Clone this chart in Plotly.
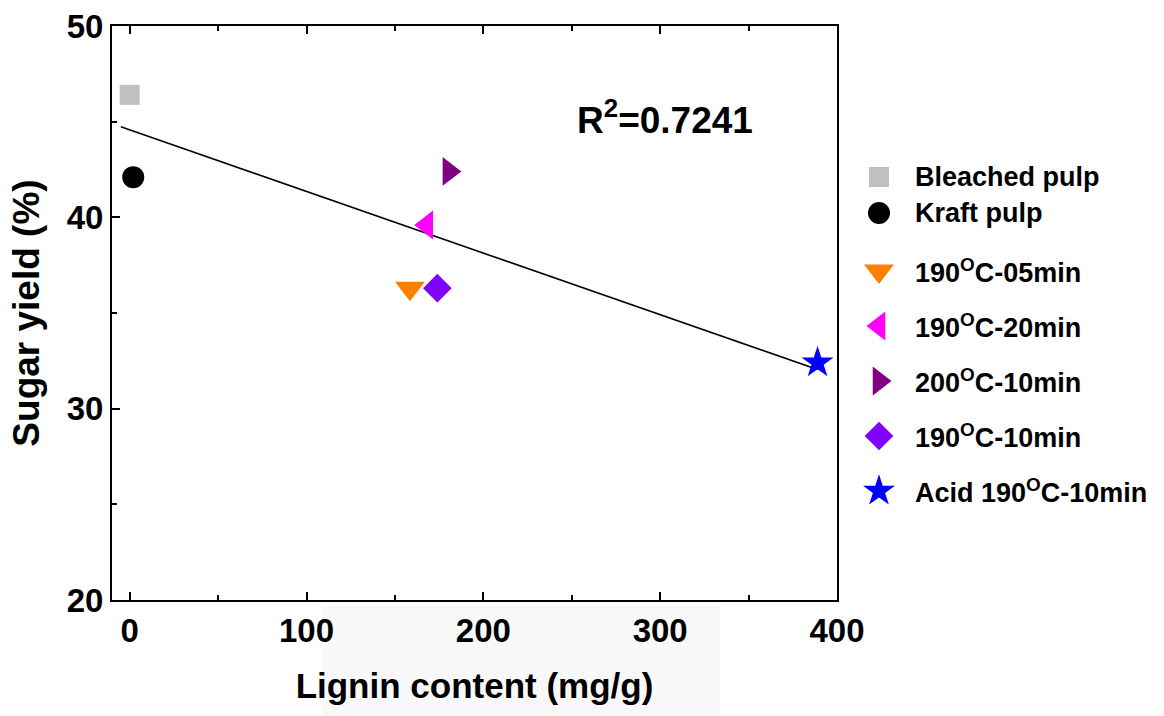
import plotly.graph_objects as go

# ---- data ----
series_names = [
    "Bleached pulp",
    "Kraft pulp",
    "190<sup>O</sup>C-05min",
    "190<sup>O</sup>C-20min",
    "200<sup>O</sup>C-10min",
    "190<sup>O</sup>C-10min",
    "Acid 190<sup>O</sup>C-10min",
]
lignin_content = [0.0, 2.0, 158.5, 168.0, 180.5, 174.0, 389.0]
sugar_yield = [46.4, 42.1, 36.3, 39.6, 42.4, 36.3, 32.4]

marker_symbols = ["square", "circle", "triangle-down", "triangle-left",
                  "triangle-right", "diamond", "star"]
marker_colors = ["#c0c0c0", "#000000", "#ff8000", "#ff00ff",
                 "#800080", "#8000ff", "#0000ff"]
marker_sizes = [20, 22, 26, 25, 25, 22, 24]

# linear fit shown in the figure
fit_slope = -0.0322
fit_intercept = 44.57
fit_x = [-5.0, 389.0]
fit_y = [fit_intercept + fit_slope * v for v in fit_x]
r_squared = "0.7241"

# legend layout (pixel rows in the figure, marker column / text column)
legend_rows_px = [177, 213, 271, 326, 381, 436, 491]
legend_marker_x_px = 879
legend_text_x_px = 913

FONT = "Liberation Sans"
W, H = 1164, 716
PL, PR, PT, PB = 112, 837, 26, 600   # plot box in pixels

fig = go.Figure()

fig.add_trace(go.Scatter(
    x=fit_x, y=fit_y, mode="lines",
    line=dict(color="black", width=1.6),
    showlegend=False, hoverinfo="skip",
))

for name, xv, yv, sym, col, sz in zip(series_names, lignin_content, sugar_yield,
                                      marker_symbols, marker_colors, marker_sizes):
    fig.add_trace(go.Scatter(
        x=[xv], y=[yv], mode="markers", name=name, showlegend=False,
        marker=dict(symbol=sym, color=col, size=sz, line=dict(width=0)),
    ))

# hand-made legend on an overlay axis whose units are figure pixels
for name, ry, sym, col, sz in zip(series_names, legend_rows_px,
                                  marker_symbols, marker_colors, marker_sizes):
    fig.add_trace(go.Scatter(
        x=[legend_marker_x_px], y=[ry], xaxis="x2", yaxis="y2",
        mode="markers", showlegend=False, hoverinfo="skip",
        marker=dict(symbol=sym, color=col, size=sz, line=dict(width=0)),
    ))
    fig.add_annotation(
        text=name, xref="x2", yref="y2", x=legend_text_x_px, y=ry,
        xanchor="left", yanchor="middle", showarrow=False,
        font=dict(family=FONT, size=27, color="black", weight="bold"),
    )

axis_common = dict(
    showline=True, linecolor="black", linewidth=2,
    ticks="inside", tickcolor="black", tickwidth=1.5, ticklen=8,
    showgrid=False, zeroline=False, automargin=False,
    tickfont=dict(family=FONT, size=33, color="black", weight="bold"),
)

xaxis_main = dict(
    domain=[PL / W, PR / W], anchor="y",
    range=[-10, 400], tickvals=[0, 100, 200, 300, 400], mirror="ticks",
    minor=dict(tickvals=[50, 150, 250, 350], ticklen=5, tickwidth=1.5,
               tickcolor="black", ticks="inside"),
    title=dict(text="Lignin content (mg/g)",
               font=dict(family=FONT, size=35, color="black", weight="bold"),
               standoff=26),
    **axis_common,
)
yaxis_main = dict(
    domain=[1 - PB / H, 1 - PT / H], anchor="x",
    range=[20, 50], tickvals=[20, 30, 40, 50], mirror=True,
    minor=dict(tickvals=[25, 35, 45], ticklen=5, tickwidth=1.5,
               tickcolor="black", ticks="inside"),
    title=dict(text="Sugar yield (%)",
               font=dict(family=FONT, size=37, color="black", weight="bold"),
               standoff=16),
    **axis_common,
)

fig.update_layout(
    xaxis=xaxis_main,
    yaxis=yaxis_main,
    xaxis2=dict(domain=[0, 1], range=[0, W], visible=False, anchor="y2",
                fixedrange=True, showgrid=False, zeroline=False),
    yaxis2=dict(domain=[0, 1], range=[H, 0], visible=False, anchor="x2",
                fixedrange=True, showgrid=False, zeroline=False),
)

fig.add_annotation(
    text="R<sup>2</sup>=" + r_squared,
    xref="paper", yref="paper", x=665 / W, y=1 - 117 / H,
    xanchor="center", yanchor="middle",
    showarrow=False, font=dict(family=FONT, size=37, color="black", weight="bold"),
)

# faint watermark background under the x-axis title
fig.add_shape(type="rect", xref="paper", yref="paper",
              x0=322 / W, x1=720 / W, y0=0, y1=1 - 606 / H,
              fillcolor="#f8f8f8", line=dict(width=0), layer="below")

fig.update_layout(
    width=W, height=H,
    margin=dict(l=0, r=0, t=0, b=0),
    paper_bgcolor="white", plot_bgcolor="rgba(0,0,0,0)",
    font=dict(family=FONT, color="black"),
    showlegend=False,
)

fig.write_html("out.html")
